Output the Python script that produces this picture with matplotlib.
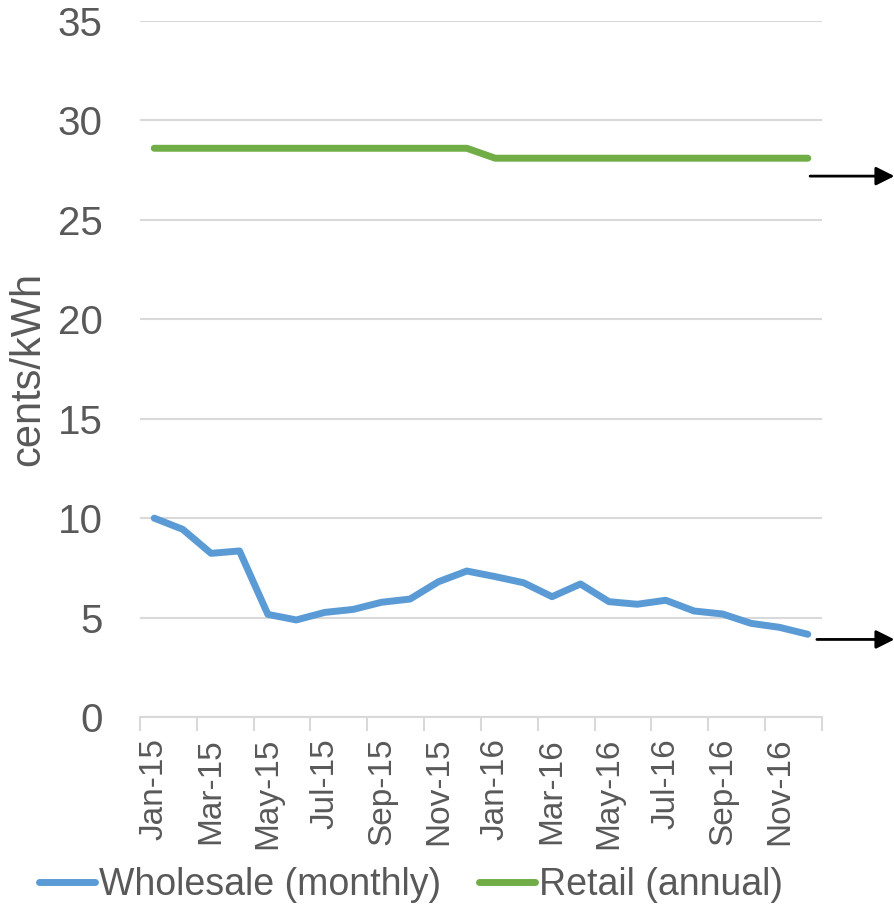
import matplotlib
matplotlib.use("Agg")
import matplotlib.pyplot as plt
import numpy as np

months = ["Jan-15", "Feb-15", "Mar-15", "Apr-15", "May-15", "Jun-15",
          "Jul-15", "Aug-15", "Sep-15", "Oct-15", "Nov-15", "Dec-15",
          "Jan-16", "Feb-16", "Mar-16", "Apr-16", "May-16", "Jun-16",
          "Jul-16", "Aug-16", "Sep-16", "Oct-16", "Nov-16", "Dec-16"]
wholesale = [10.0, 9.44, 8.23, 8.35, 5.16, 4.88, 5.26, 5.41, 5.77, 5.93, 6.80, 7.34,
             7.06, 6.75, 6.05, 6.69, 5.80, 5.67, 5.87, 5.33, 5.18, 4.71, 4.51, 4.16]
retail = [28.6] * 12 + [28.1] * 12
arrow_levels = [27.2, 3.9]
y_ticks = [0, 5, 10, 15, 20, 25, 30, 35]

plt.rcParams['font.family'] = ['Liberation Sans', 'DejaVu Sans']
TXT = '#595959'
GRID = '#d9d9d9'

fig = plt.figure(figsize=(8.95, 9.07), dpi=100)
ax = fig.add_axes([140/895, 1-717/907, 682/895, 696/907])

x = np.arange(len(months))
ax.plot(x, wholesale, color='#5b9bd5', lw=5, solid_capstyle='round',
        solid_joinstyle='round', label='Wholesale (monthly)', zorder=3)
ax.plot(x, retail, color='#70ad47', lw=5, solid_capstyle='round',
        solid_joinstyle='round', label='Retail (annual)', zorder=3)

ax.set_xlim(-0.5, len(months) - 0.5)
ax.set_ylim(0, 35)
ax.set_yticks(y_ticks)
ax.yaxis.grid(True, color=GRID, lw=1.5)
ax.set_axisbelow(True)
for s in ['left', 'right', 'top']:
    ax.spines[s].set_visible(False)
ax.spines['bottom'].set_color(GRID)
ax.spines['bottom'].set_linewidth(1.5)

ax.tick_params(axis='y', length=0, pad=27, labelsize=29, labelcolor=TXT)
ax.set_xticks(x[::2])
ax.set_xticklabels(months[::2], rotation=90, fontsize=24, color=TXT)
ax.set_xticks(np.arange(-0.5, len(months), 2), minor=True)
ax.tick_params(axis='x', which='major', length=0, pad=15)
ax.tick_params(axis='x', which='minor', length=10, width=1.5, color=GRID)

ax.set_ylabel('cents/kWh', fontsize=30, color=TXT, va='center')
ax.yaxis.set_label_coords(-0.164, 0.5)

starts = [23.08, 23.32]
for lvl, st in zip(arrow_levels, starts):
    ax.annotate('', xy=(26.05, lvl), xytext=(st, lvl), xycoords='data',
                annotation_clip=False,
                arrowprops=dict(arrowstyle='-|>', color='black', lw=2,
                                mutation_scale=28, shrinkA=0, shrinkB=0))

leg = fig.legend(loc='center', bbox_to_anchor=(411/895, 1-885/907), ncol=2,
                 frameon=False, fontsize=27, handlelength=1.5, handletextpad=0.1,
                 columnspacing=1.0, labelcolor=TXT)

fig.savefig('out.png', dpi=100)
